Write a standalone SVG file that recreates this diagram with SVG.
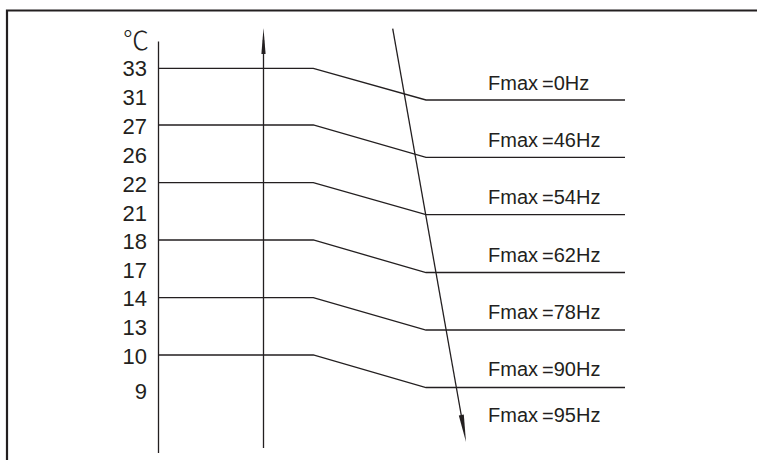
<svg xmlns="http://www.w3.org/2000/svg" width="757" height="460" viewBox="0 0 757 460">
<style>
.ln{stroke:#231f20;stroke-width:1.3;fill:none}
.fr{stroke:#231f20;stroke-width:2.2;fill:none}
.num{font-family:"Liberation Sans",Arial,sans-serif;font-size:22px;fill:#231f20;text-anchor:end}
.fl{font-family:"Liberation Sans",Arial,sans-serif;font-size:20px;fill:#231f20}
.ah{fill:#231f20;stroke:none}
</style>
<rect width="757" height="460" fill="#fff"/>
<g id="frame">
<path class="fr" d="M757,10.5 H7 V460"/>
</g>
<g id="axis-labels">
<text x="149" y="50" style="font-family:'Noto Sans CJK SC','DejaVu Sans',sans-serif;font-size:26px;font-weight:300;fill:#231f20;text-anchor:end">℃</text>
<text class="num" x="147" y="76">33</text>
<text class="num" x="147" y="105">31</text>
<text class="num" x="147" y="134">27</text>
<text class="num" x="147" y="163">26</text>
<text class="num" x="147" y="191.5">22</text>
<text class="num" x="147" y="220.5">21</text>
<text class="num" x="147" y="249">18</text>
<text class="num" x="147" y="277.5">17</text>
<text class="num" x="147" y="306">14</text>
<text class="num" x="147" y="335">13</text>
<text class="num" x="147" y="364">10</text>
<text class="num" x="147" y="399">9</text>
</g>
<g id="connectors">
<line class="ln" x1="158.5" y1="41.5" x2="158.5" y2="453"/>
<line class="ln" x1="263.5" y1="40" x2="263.5" y2="448"/>
<polygon class="ah" points="263.5,28 261.4,54 265.6,54"/>
<line class="ln" x1="392.7" y1="28.7" x2="463" y2="425"/>
<polygon class="ah" points="466,442 463.8,414.5 458.8,415.4"/>
<polyline class="ln" points="158.5,68.3 313.3,68.3 426,100 625,100"/>
<polyline class="ln" points="158.5,125 313.3,125 426,157.3 625,157.3"/>
<polyline class="ln" points="158.5,182.7 313.3,182.7 426,214.7 625,214.7"/>
<polyline class="ln" points="158.5,240 313.3,240 426,272.5 625,272.5"/>
<polyline class="ln" points="158.5,297.7 313.3,297.7 426,330 625,330"/>
<polyline class="ln" points="158.5,355 313.3,355 426,387.5 625,387.5"/>
</g>
<g id="freq-labels">
<text class="fl" x="488" y="90">Fmax<tspan dx="4" dy="1">=</tspan><tspan dy="-1">0Hz</tspan></text>
<text class="fl" x="488" y="147">Fmax<tspan dx="4" dy="1">=</tspan><tspan dy="-1">46Hz</tspan></text>
<text class="fl" x="488" y="204">Fmax<tspan dx="4" dy="1">=</tspan><tspan dy="-1">54Hz</tspan></text>
<text class="fl" x="488" y="262">Fmax<tspan dx="4" dy="1">=</tspan><tspan dy="-1">62Hz</tspan></text>
<text class="fl" x="488" y="319">Fmax<tspan dx="4" dy="1">=</tspan><tspan dy="-1">78Hz</tspan></text>
<text class="fl" x="488" y="376">Fmax<tspan dx="4" dy="1">=</tspan><tspan dy="-1">90Hz</tspan></text>
<text class="fl" x="488" y="422">Fmax<tspan dx="4" dy="1">=</tspan><tspan dy="-1">95Hz</tspan></text>
</g>
</svg>
